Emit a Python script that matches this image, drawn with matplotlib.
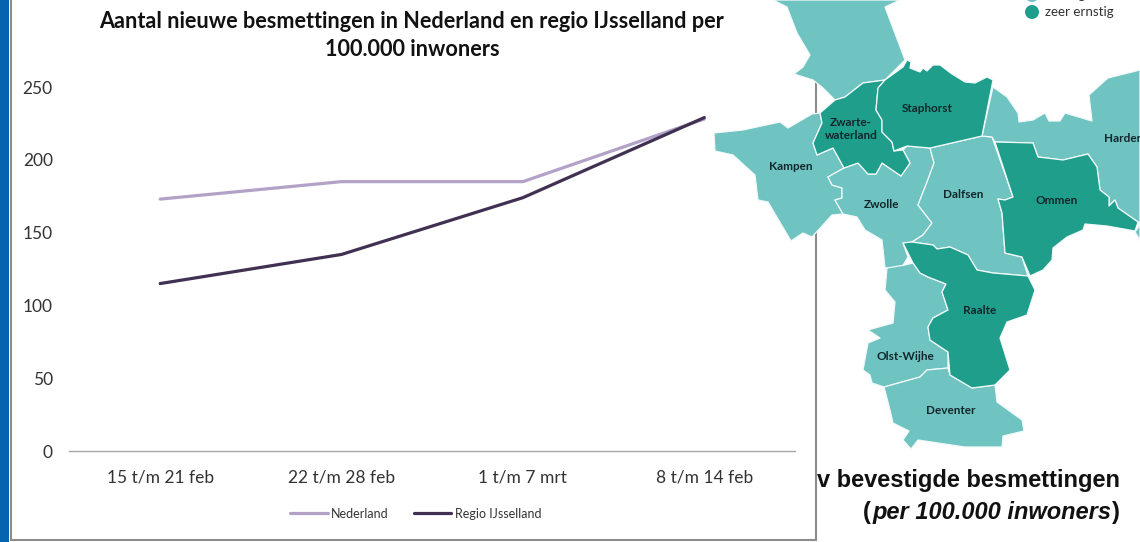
import matplotlib
matplotlib.use("Agg")
import matplotlib.pyplot as plt
from matplotlib.patches import Polygon, Rectangle, Circle

W, H = 1140, 542

categories = ["15 t/m 21 feb", "22 t/m 28 feb", "1 t/m 7 mrt", "8 t/m 14 feb"]
nederland = [173, 185, 185, 228]
ijsselland = [115, 135, 174, 229]
y_ticks = [0, 50, 100, 150, 200, 250]

LIGHT = "#6FC3C1"
DARK = "#1F9E8C"

top_region = [(773,0),(787,7),(797,33),(810,55),(803,67),(794,74),(813,80),(823,88),(835,100),(845,97),(863,83),(885,80),(905,60),(885,7),(900,0)]
zwartewaterland = [(820,113),(835,100),(845,97),(863,83),(885,80),(878,88),(876,110),(882,120),(882,132),(892,142),(894,151),(903,150),(910,163),(901,176),(882,163),(876,174),(868,174),(858,163),(844,168),(833,148),(817,155),(813,143),(822,123)]
staphorst = [(885,80),(903,67),(907,60),(911,62),(910,68),(920,72),(923,68),(927,71),(933,65),(940,65),(952,74),(965,82),(975,83),(987,77),(993,80),(982,136),(930,148),(907,146),(894,151),(892,142),(882,132),(882,120),(876,110),(878,88)]
kampen = [(714,133),(743,130),(780,122),(788,128),(812,114),(820,113),(822,123),(813,143),(817,155),(833,148),(844,168),(828,177),(832,185),(842,188),(842,198),(835,200),(843,214),(832,215),(812,237),(803,233),(791,241),(768,202),(758,200),(755,175),(733,155),(715,151)]
zwolle = [(828,177),(844,168),(858,163),(868,174),(876,174),(882,163),(901,176),(910,163),(903,150),(907,146),(930,148),(934,163),(927,182),(918,205),(932,223),(923,235),(912,242),(903,243),(908,257),(902,267),(885,268),(882,240),(865,230),(857,217),(843,214),(835,200),(842,198),(842,188),(832,185)]
dalfsen = [(930,148),(982,136),(992,137),(1013,197),(1005,200),(998,199),(1002,213),(1005,253),(1022,257),(1028,276),(993,273),(977,270),(968,255),(950,247),(937,249),(933,245),(912,242),(923,235),(932,223),(918,205),(927,182),(934,163)]
ommen = [(995,142),(1033,143),(1038,157),(1063,160),(1088,154),(1097,167),(1100,190),(1109,197),(1109,206),(1115,200),(1118,208),(1138,222),(1135,231),(1107,226),(1085,224),(1083,230),(1067,237),(1053,248),(1052,260),(1043,270),(1030,276),(1022,257),(1005,253),(1002,213),(998,199),(1005,200),(1013,197)]
hardenberg = [(993,87),(1007,97),(1018,113),(1019,122),(1033,120),(1045,113),(1049,121),(1060,121),(1065,113),(1092,121),(1089,95),(1108,78),(1140,70),(1140,222),(1138,222),(1118,208),(1115,200),(1109,206),(1109,197),(1100,190),(1097,167),(1088,154),(1063,160),(1038,157),(1033,143),(995,142),(992,137),(982,136)]
corner = [(1140,225),(1135,232),(1140,240)]
raalte = [(903,243),(912,242),(933,245),(937,249),(950,247),(968,255),(977,270),(993,273),(1028,276),(1035,290),(1027,315),(1007,322),(1000,338),(1010,370),(995,385),(972,388),(950,375),(948,352),(930,340),(928,327),(933,318),(948,310),(942,292),(946,284),(928,277),(920,273),(913,263)]
olst_wijhe = [(887,268),(905,265),(913,263),(920,273),(928,277),(946,284),(942,292),(948,310),(933,318),(928,327),(930,340),(948,352),(948,368),(927,370),(920,377),(884,387),(872,383),(870,375),(863,370),(868,343),(880,338),(868,330),(893,323),(895,302),(885,290)]
deventer = [(884,387),(920,377),(927,370),(948,368),(950,375),(972,388),(995,385),(997,402),(1022,420),(1024,431),(1003,436),(1002,447),(965,447),(918,440),(911,449),(903,440),(909,431),(893,423),(890,410)]

regions = [(top_region, LIGHT), (kampen, LIGHT), (zwolle, LIGHT), (dalfsen, LIGHT),
           (hardenberg, LIGHT), (corner, LIGHT), (olst_wijhe, LIGHT), (deventer, LIGHT),
           (zwartewaterland, DARK), (staphorst, DARK), (ommen, DARK), (raalte, DARK)]

map_labels = [("Staphorst", 927, 108, "center"), ("Zwarte-\nwaterland", 851, 129, "center"), ("Kampen", 791, 166, "center"),
              ("Zwolle", 882, 205, "center"), ("Dalfsen", 963, 195, "center"), ("Ommen", 1057, 200, "center"),
              ("Harden", 1104, 138, "left"), ("Raalte", 980, 310, "center"), ("Olst-Wijhe", 905, 356, "center"),
              ("Deventer", 951, 411, "center")]

fig = plt.figure(figsize=(W / 100, H / 100), dpi=100, facecolor="white")

# backdrop in pixel coordinates
bg = fig.add_axes([0, 0, 1, 1], zorder=0)
bg.set_xlim(0, W); bg.set_ylim(H, 0); bg.axis("off")
bg.add_patch(Rectangle((0, 0), 9, H, facecolor="#0563B0", edgecolor="none"))
sans = "Liberation Sans"
bold = dict(va="center", fontsize=17, fontweight="bold", family=sans, color="#111111", zorder=1)
bg.text(1120, 480, "v bevestigde besmettingen", ha="right", **bold)
bg.text(1120, 512, ")", ha="right", **bold)
bg.text(1112, 512, "per 100.000 inwoners", ha="right", style="italic", **bold)
bg.text(871, 512, "(", ha="right", **bold)
bg.add_patch(Rectangle((10.5, -5), 805, 545, facecolor="white", edgecolor="#8C8C8C", linewidth=1.5, zorder=2))

# line chart
ax = fig.add_axes([69.5 / W, 1 - 451 / H, 725.5 / W, 364 / H], zorder=1)
ax.patch.set_alpha(0)
x = range(len(categories))
ax.plot(x, nederland, color="#B3A2C7", lw=2.3, label="Nederland", solid_capstyle="round")
ax.plot(x, ijsselland, color="#403152", lw=2.3, label="Regio IJsselland", solid_capstyle="round")
ax.set_xlim(-0.5, 3.5); ax.set_ylim(0, 250)
ax.set_xticks(list(x), categories); ax.set_yticks(y_ticks)
for s in ["top", "right", "left"]:
    ax.spines[s].set_visible(False)
ax.spines["bottom"].set_color("#A6A6A6"); ax.spines["bottom"].set_linewidth(1)
ax.tick_params(length=0, labelsize=12.5, labelcolor="#333333")
ax.tick_params(axis="x", pad=13)
ax.tick_params(axis="y", pad=12)
for lab in ax.get_xticklabels() + ax.get_yticklabels():
    lab.set_family("Lato")
leg = ax.legend(loc="center", bbox_to_anchor=(0.4775, -0.172), ncol=2, frameon=False, handlelength=3.0,
                columnspacing=2.0, handletextpad=0.3, prop={"family": "Lato", "size": 9}, labelcolor="#333333")
fig.text(412 / W, 1 - 35.5 / H, "Aantal nieuwe besmettingen in Nederland en regio IJsselland per\n100.000 inwoners",
         ha="center", va="center", family="Lato", fontweight="bold", fontsize=15.6, color="#111111",
         linespacing=1.42, zorder=3)

# map on top of everything
mp = fig.add_axes([0, 0, 1, 1], zorder=2)
mp.set_xlim(0, W); mp.set_ylim(H, 0); mp.axis("off"); mp.patch.set_alpha(0)
for pts, col in regions:
    mp.add_patch(Polygon(pts, closed=True, facecolor=col, edgecolor="#F2FAF9", linewidth=0.9, joinstyle="round"))
for name, px, py, align in map_labels:
    mp.text(px, py, name, ha=align, va="center", family="Lato", fontweight="bold", fontsize=8.5,
            color="#12272B", linespacing=1.25, clip_on=True)
mp.add_patch(Circle((1032, 12), 7, facecolor=DARK, edgecolor="none"))
mp.add_patch(Circle((1032, -5), 7, facecolor=LIGHT, edgecolor="none"))
mp.text(1045, 12, "zeer ernstig", ha="left", va="center", family="Lato", fontsize=9.6, color="#333333")
mp.text(1045, -5, "ernstig", ha="left", va="center", family="Lato", fontsize=9.6, color="#333333", clip_on=True)

fig.savefig("out.png", dpi=100, facecolor="white")
